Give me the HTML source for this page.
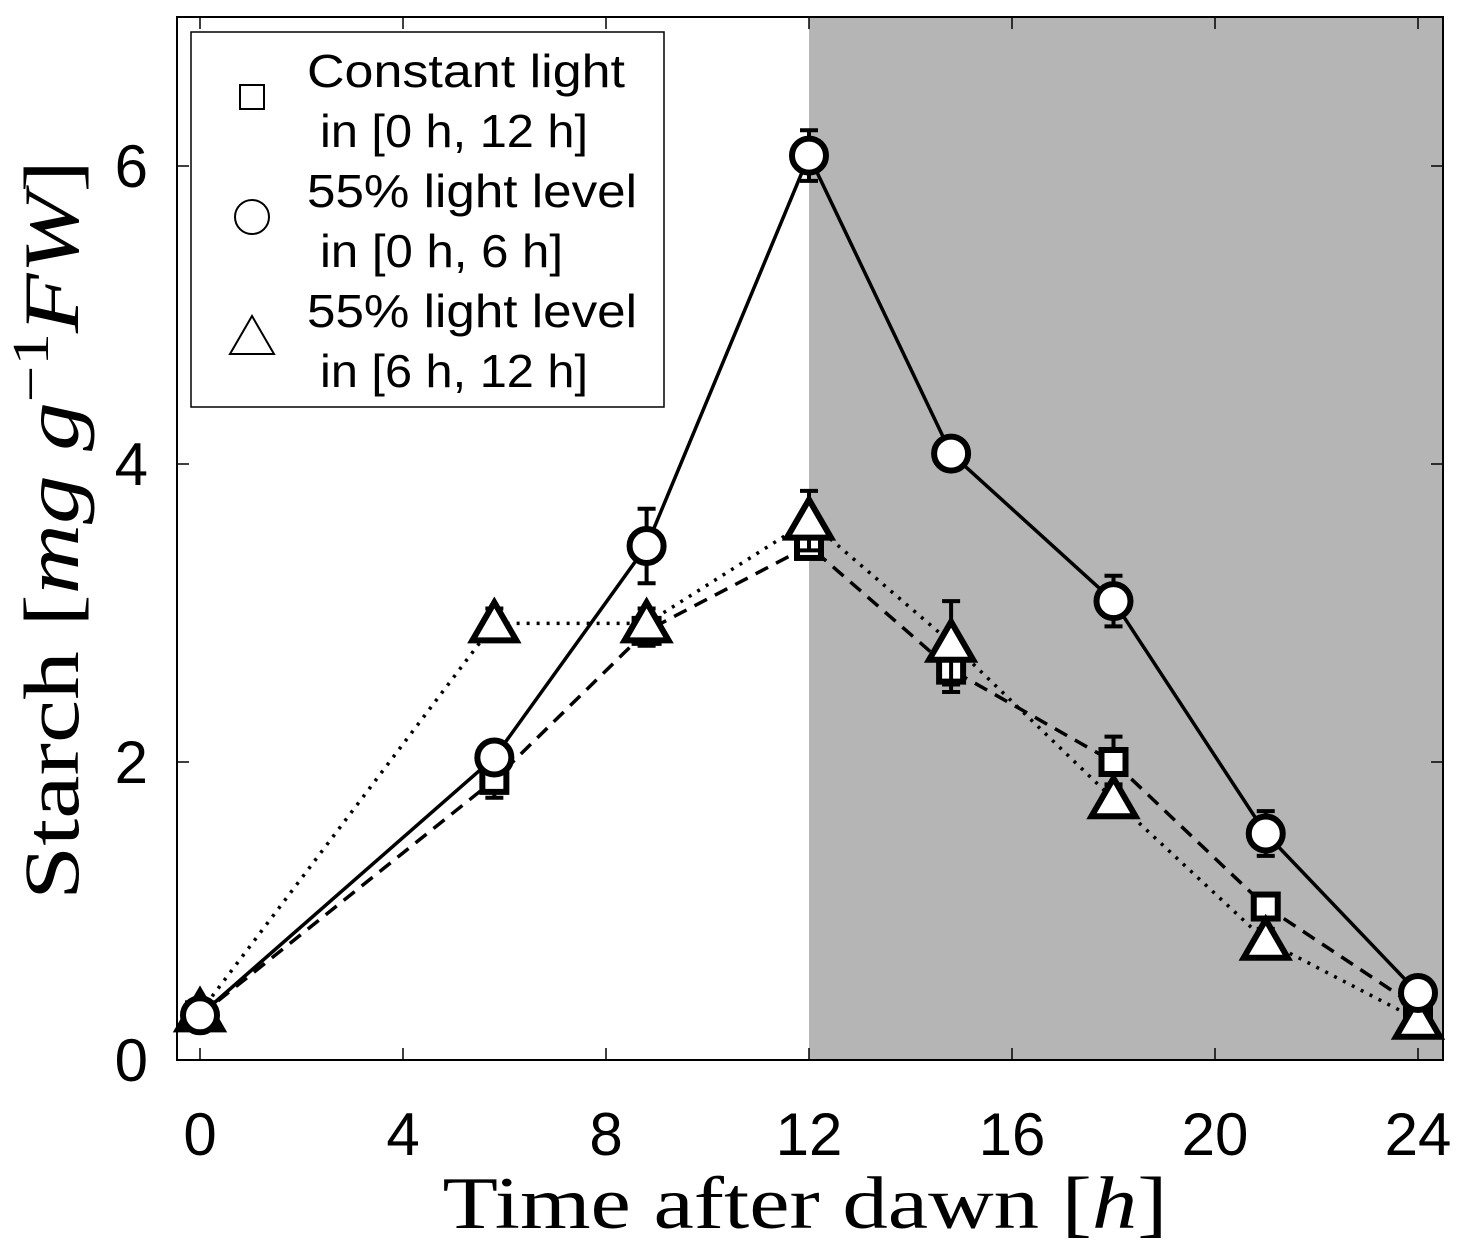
<!DOCTYPE html>
<html><head><meta charset="utf-8"><style>
body{margin:0;background:#fff}
svg text{font-family:"Liberation Sans","DejaVu Sans",sans-serif}
</style></head><body>
<svg id="chart" width="1460" height="1253" xmlns="http://www.w3.org/2000/svg">
<g id="plot"></g>
</svg>
<script>
const times = [0, 5.8, 8.8, 12, 14.8, 18, 21, 24];
const squareVals = [0.30, 1.88, 2.88, 3.45, 2.62, 2.00, 1.03, 0.35];
const squareErr = [0.05, 0.12, 0.10, 0.08, 0.15, 0.17, 0.08, 0.05];
const circleVals = [0.30, 2.03, 3.45, 6.07, 4.07, 3.08, 1.52, 0.45];
const circleErr = [0.05, 0.10, 0.25, 0.17, 0.08, 0.17, 0.15, 0.05];
const triVals = [0.32, 2.93, 2.93, 3.62, 2.80, 1.75, 0.80, 0.27];
const triErr = [0.05, 0.10, 0.10, 0.20, 0.28, 0.10, 0.08, 0.04];
const xTicks = [0, 4, 8, 12, 16, 20, 24];
const yTicks = [0, 2, 4, 6];

const L=177,R=1443,T=17,B=1060;
const X=v=>200+v*50.75;
const Y=v=>1060-v*149;
const g=document.getElementById('plot');
const NS='http://www.w3.org/2000/svg';
function mk(tag,attrs,parent){const e=document.createElementNS(NS,tag);for(const k in attrs)e.setAttribute(k,attrs[k]);(parent||g).appendChild(e);return e;}

let night=mk('rect',{x:X(12),y:T,width:R-X(12),height:B-T,fill:'#b5b5b5'});



xTicks.forEach(t=>{
  mk('line',{x1:X(t),x2:X(t),y1:B,y2:B-12,stroke:'#000','stroke-width':1.5});
  mk('line',{x1:X(t),x2:X(t),y1:T,y2:T+12,stroke:'#000','stroke-width':1.5});
  const tx=mk('text',{x:X(t),y:1155,'font-size':60,'text-anchor':'middle'});tx.textContent=t;
  
  
});
yTicks.forEach(t=>{
  mk('line',{x1:L,x2:L+12,y1:Y(t),y2:Y(t),stroke:'#000','stroke-width':1.5});
  mk('line',{x1:R,x2:R-12,y1:Y(t),y2:Y(t),stroke:'#000','stroke-width':1.5});
  const tx=mk('text',{x:148,y:Y(t)+21,'font-size':60,'text-anchor':'end'});tx.textContent=t;
  
  
});

function series(vals,errs,dash,marker,name){
  const pts=times.map((t,i)=>X(t)+','+Y(vals[i])).join(' ');
  const pl=mk('polyline',{points:pts,fill:'none',stroke:'#000','stroke-width':3.5,'stroke-dasharray':dash});
  
  
  times.forEach((t,i)=>{
    const x=X(t),y1=Y(vals[i]+errs[i]),y2=Y(vals[i]-errs[i]);
    mk('line',{x1:x,x2:x,y1:y1,y2:y2,stroke:'#000','stroke-width':4});
    mk('line',{x1:x-9,x2:x+9,y1:y1,y2:y1,stroke:'#000','stroke-width':4});
    mk('line',{x1:x-9,x2:x+9,y1:y2,y2:y2,stroke:'#000','stroke-width':4});
  });
  times.forEach((t,i)=>{
    const m=marker(X(t),Y(vals[i]),6);
    
    
  });
}
const sq=(x,y,w,p)=>mk('rect',{x:x-12,y:y-12,width:24,height:24,fill:'#fff',stroke:'#000','stroke-width':w},p);
const ci=(x,y,w,p)=>mk('circle',{cx:x,cy:y,r:17,fill:'#fff',stroke:'#000','stroke-width':w},p);
const tr=(x,y,w,p)=>mk('polygon',{points:`${x},${y-21} ${x-22},${y+17} ${x+22},${y+17}`,fill:'#fff',stroke:'#000','stroke-width':w},p);

series(squareVals,squareErr,'14,9',sq,'constant-light');
series(triVals,triErr,'3,7',tr,'late-low-light');
series(circleVals,circleErr,'none',ci,'early-low-light');

let frame=mk('rect',{x:L,y:T,width:R-L,height:B-T,fill:'none',stroke:'#000','stroke-width':2});



const lg=mk('g',{});


mk('rect',{x:191,y:32,width:473,height:375,fill:'#fff',stroke:'#000','stroke-width':1.5},lg);
const legText=[['Constant light','in [0 h, 12 h]'],['55% light level','in [0 h, 6 h]'],['55% light level','in [6 h, 12 h]']];
const legW=[[318,268],[330,243],[330,268]];
const mks=[sq,ci,tr];
legText.forEach((lines,i)=>{
  const cy=97+i*120;
  mks[i](252,cy,2,lg);
  const t1=mk('text',{x:307,y:cy-10,'font-size':46,textLength:legW[i][0],lengthAdjust:'spacingAndGlyphs'},lg);t1.textContent=lines[0];
  const t2=mk('text',{x:320,y:cy+50,'font-size':46,textLength:legW[i][1],lengthAdjust:'spacingAndGlyphs'},lg);t2.textContent=lines[1];
  
  
});

const xt=mk('text',{x:805,y:1228,'font-size':74,'text-anchor':'middle',textLength:725,lengthAdjust:'spacingAndGlyphs','style':'font-family:"Liberation Serif",serif'});
xt.innerHTML='Time after dawn [<tspan font-style="italic">h</tspan>]';


const yt=mk('text',{x:0,y:0,'font-size':78,'text-anchor':'middle',textLength:740,lengthAdjust:'spacingAndGlyphs','transform':'translate(78,530) rotate(-90)','style':'font-family:"Liberation Serif",serif'});
yt.innerHTML='Starch [<tspan font-style="italic">mg g</tspan><tspan dy="-30" font-size="52">−1</tspan><tspan dy="30" font-style="italic">FW</tspan>]';


</script>
</body></html>
